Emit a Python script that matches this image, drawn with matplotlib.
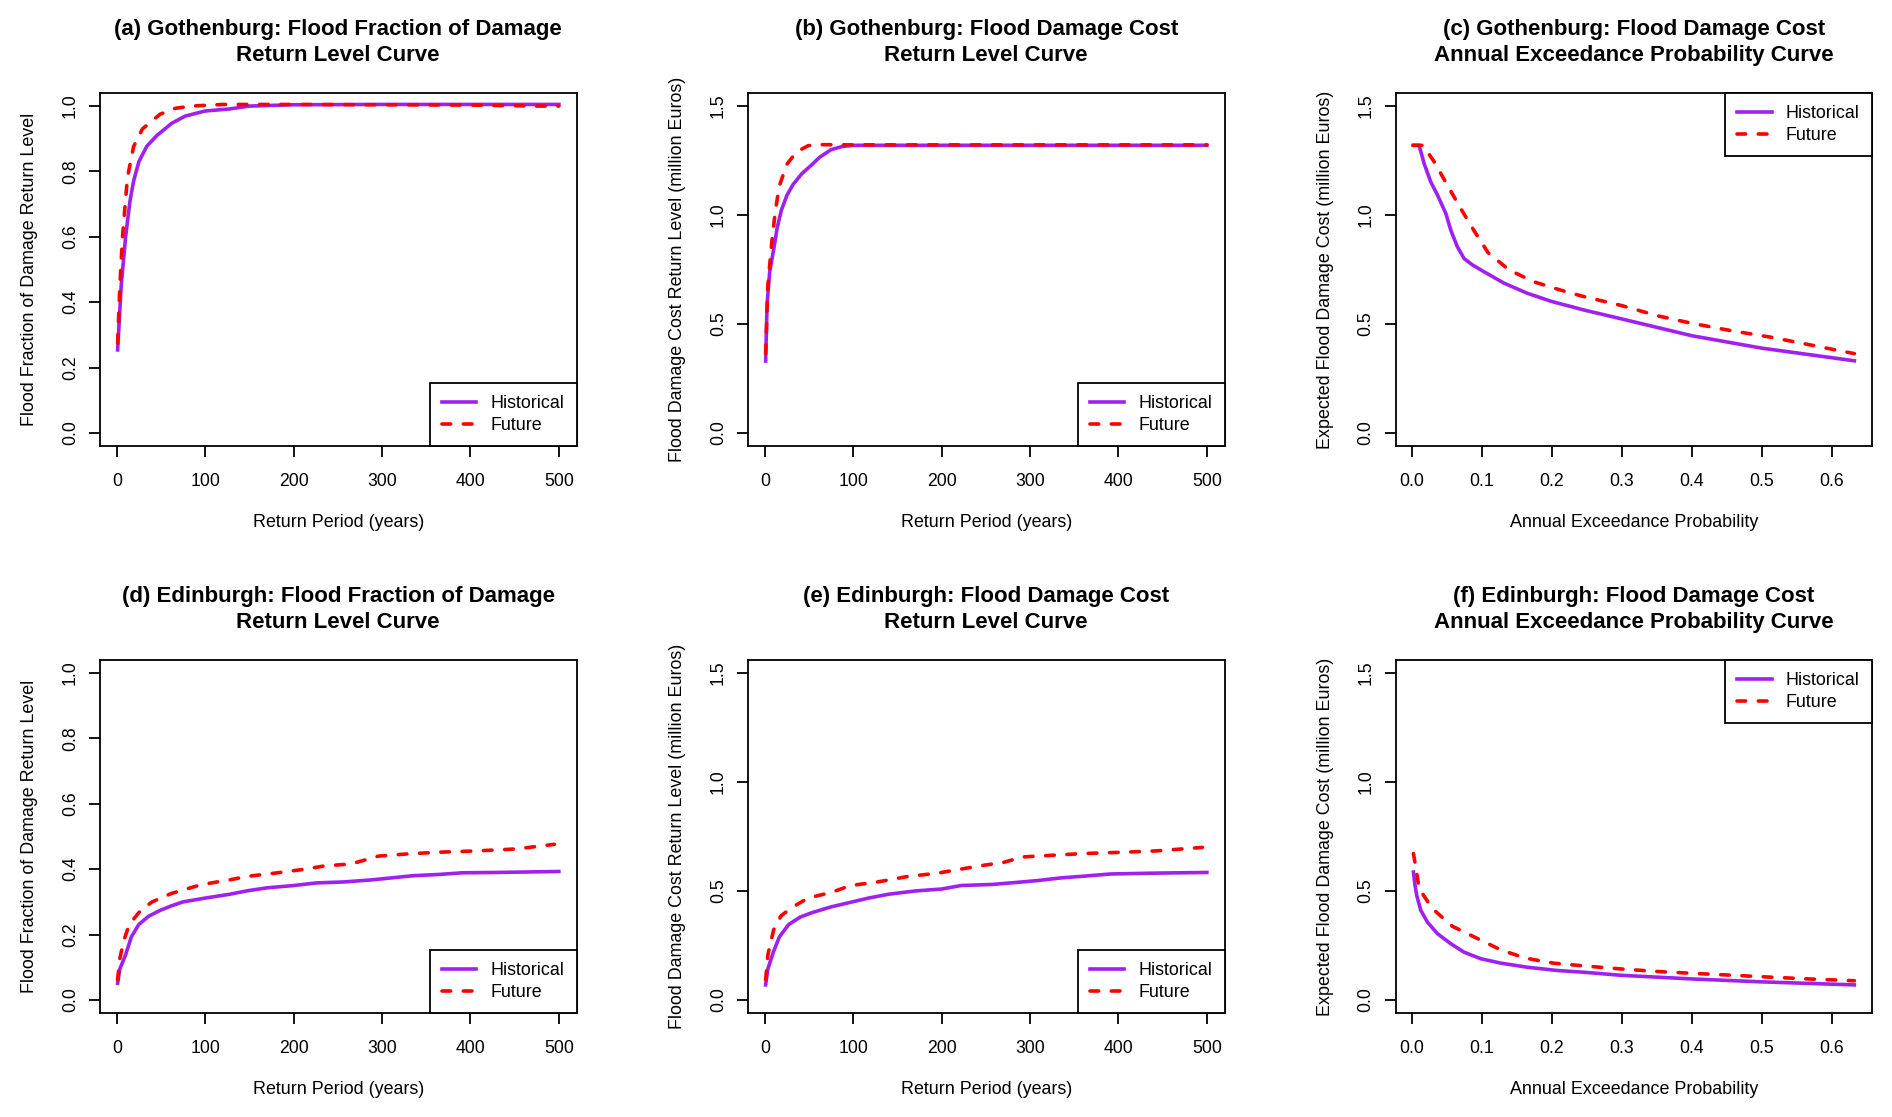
import matplotlib
matplotlib.use('Agg')
import matplotlib.pyplot as plt

plt.rcParams['font.family'] = ['Liberation Sans', 'DejaVu Sans']

# ---- data ----
# (a) Gothenburg flood fraction of damage vs return period
rp_a_hist = [1, 5, 10, 15, 19, 25, 34, 45, 62, 77, 100, 127, 150, 200, 300, 400, 500]
frac_a_hist = [0.254, 0.45, 0.60, 0.71, 0.77, 0.83, 0.877, 0.909, 0.947, 0.969, 0.985, 0.991,
               1.0, 1.004, 1.005, 1.005, 1.005]
rp_a_fut = [1, 3.5, 6.5, 12, 19, 29, 49, 66, 84, 120, 200, 300, 400, 480, 500]
frac_a_fut = [0.275, 0.45, 0.60, 0.78, 0.876, 0.93, 0.975, 0.993, 1.0, 1.005, 1.005, 1.004,
              1.003, 1.0, 1.0]

# (b) Gothenburg damage cost vs return period
rp_b_hist = [1, 2.6, 5.6, 10, 14, 18.6, 25, 32, 42, 53, 62, 75, 88, 100, 200, 300, 400, 500]
cost_b_hist = [0.33, 0.59, 0.74, 0.84, 0.94, 1.02, 1.09, 1.14, 1.19, 1.23, 1.265, 1.30, 1.315,
               1.32, 1.32, 1.32, 1.32, 1.32]
rp_b_fut = [1, 3.5, 7.8, 12, 16.5, 25, 36, 49, 58, 100, 200, 300, 400, 500]
cost_b_fut = [0.364, 0.675, 0.87, 1.02, 1.134, 1.233, 1.29, 1.318, 1.323, 1.322, 1.322, 1.322,
              1.322, 1.322]

# (c) Gothenburg damage cost vs annual exceedance probability
aep_c_hist = [0.002, 0.0105, 0.0176, 0.027, 0.0367, 0.0486, 0.0557, 0.065, 0.0748, 0.0867,
              0.103, 0.132, 0.165, 0.199, 0.246, 0.3, 0.4, 0.5, 0.632]
cost_c_hist = [1.32, 1.32, 1.237, 1.153, 1.092, 1.008, 0.931, 0.855, 0.80, 0.771, 0.74, 0.687,
               0.641, 0.604, 0.564, 0.523, 0.446, 0.389, 0.331]
aep_c_fut = [0.002, 0.016, 0.0319, 0.05, 0.069, 0.089, 0.109, 0.139, 0.174, 0.212, 0.243, 0.299,
             0.353, 0.40, 0.455, 0.515, 0.58, 0.632]
cost_c_fut = [1.32, 1.32, 1.245, 1.142, 1.035, 0.928, 0.827, 0.748, 0.694, 0.656, 0.628, 0.585,
              0.536, 0.503, 0.47, 0.438, 0.397, 0.364]

# (d) Edinburgh flood fraction of damage vs return period
rp_d_hist = [1, 3.5, 10, 16.5, 25, 36, 49, 62, 75, 101, 127, 148, 170, 200, 226, 257, 287, 313,
             335, 365, 391, 430, 500]
frac_d_hist = [0.051, 0.095, 0.138, 0.193, 0.231, 0.256, 0.274, 0.288, 0.30, 0.312, 0.323,
               0.334, 0.343, 0.35, 0.358, 0.361, 0.367, 0.374, 0.38, 0.384, 0.389, 0.39, 0.393]
rp_d_fut = [1, 3.5, 7.8, 14, 27, 40, 62, 96, 127, 148, 179, 213, 235, 265, 296, 330, 365, 408,
            452, 495]
frac_d_fut = [0.062, 0.127, 0.18, 0.23, 0.274, 0.30, 0.326, 0.353, 0.367, 0.378, 0.388, 0.40,
              0.41, 0.416, 0.44, 0.447, 0.452, 0.456, 0.462, 0.476]

# (e) Edinburgh damage cost vs return period
rp_e_hist = [1, 3.5, 10, 16.5, 27, 40, 53, 75, 97, 118, 140, 170, 200, 222, 257, 287, 309, 335,
             361, 391, 443, 500]
cost_e_hist = [0.069, 0.142, 0.223, 0.289, 0.346, 0.38, 0.40, 0.427, 0.448, 0.468, 0.485, 0.50,
               0.509, 0.525, 0.53, 0.54, 0.548, 0.56, 0.568, 0.578, 0.582, 0.585]
rp_e_fut = [1, 3.5, 10, 18.6, 32, 49, 75, 97, 127, 161, 196, 218, 248, 270, 291, 326, 361, 400,
            443, 495]
cost_e_fut = [0.093, 0.207, 0.321, 0.387, 0.427, 0.468, 0.493, 0.525, 0.541, 0.566, 0.582,
              0.598, 0.618, 0.631, 0.656, 0.664, 0.672, 0.677, 0.684, 0.70]

# (f) Edinburgh damage cost vs annual exceedance probability
aep_f_hist = [0.0024, 0.0043, 0.0071, 0.0129, 0.0224, 0.0367, 0.0557, 0.0748, 0.0986, 0.127,
              0.165, 0.208, 0.246, 0.299, 0.402, 0.499, 0.632]
cost_f_hist = [0.587, 0.534, 0.48, 0.411, 0.357, 0.304, 0.258, 0.219, 0.189, 0.169, 0.15, 0.135,
               0.127, 0.113, 0.096, 0.083, 0.069]
aep_f_fut = [0.0024, 0.0057, 0.0105, 0.0295, 0.058, 0.0924, 0.127, 0.162, 0.202, 0.239, 0.299,
             0.353, 0.402, 0.46, 0.515, 0.569, 0.632]
cost_f_fut = [0.672, 0.61, 0.511, 0.419, 0.338, 0.284, 0.23, 0.192, 0.169, 0.158, 0.142, 0.13,
              0.122, 0.113, 0.104, 0.096, 0.088]

rp_ticks = [0, 100, 200, 300, 400, 500]
aep_ticks = [0.0, 0.1, 0.2, 0.3, 0.4, 0.5, 0.6]
frac_ticks = [0.0, 0.2, 0.4, 0.6, 0.8, 1.0]
cost_ticks = [0.0, 0.5, 1.0, 1.5]

PURPLE = '#A020F0'
RED = '#FF0000'

W, H = 1892, 1117
fig = plt.figure(figsize=(W / 100, H / 100), dpi=100)

col_left = [100, 748, 1395.5]
row_top = [93, 660]
ax_w, ax_h = 476.5, 353


def panel(col, row, title, xh, yh, xf, yf, xlabel, ylabel, xlim, xticks, ylim, yticks, loc):
    ax = fig.add_axes([col_left[col] / W, 1 - (row_top[row] + ax_h) / H, ax_w / W, ax_h / H])
    ax.plot(xh, yh, color=PURPLE, lw=2.6, label='Historical')
    ax.plot(xf, yf, color=RED, lw=2.6, dashes=(2.4, 3.5), dash_capstyle='round', label='Future')
    ax.set_xlim(xlim)
    ax.set_ylim(ylim)
    ax.set_xticks(xticks)
    ax.set_yticks(yticks)
    if isinstance(xticks[-1], float):
        ax.set_xticklabels(['%.1f' % t for t in xticks])
    ax.set_yticklabels(['%.1f' % t for t in yticks])
    ax.tick_params(direction='out', length=8.2, width=1.3, labelsize=12.7, color='black')
    ax.tick_params(axis='x', pad=11.5)
    ax.tick_params(axis='y', pad=7, labelrotation=90)
    plt.setp(ax.get_yticklabels(), va='center')
    for s in ax.spines.values():
        s.set_linewidth(1.3)
    ax.set_title(title, fontsize=16, fontweight='bold', pad=23, linespacing=1.32)
    ax.set_xlabel(xlabel, fontsize=12.9)
    ax.set_ylabel(ylabel, fontsize=12.9)
    ax.xaxis.set_label_coords(0.5, -76.5 / ax_h)
    ax.xaxis.label.set_va('center')
    ax.yaxis.set_label_coords(-70.5 / ax_w, 0.5)
    ax.yaxis.label.set_va('center')
    leg = ax.legend(loc=loc, borderaxespad=0, fancybox=False, framealpha=1, edgecolor='black',
                    fontsize=12.9, handlelength=1.93, handletextpad=0.78, borderpad=0.68,
                    labelspacing=0.26)
    leg.get_frame().set_linewidth(1.3)
    return ax


rp_lim = (-18.96, 519.96)
aep_lim = (-0.0232, 0.6572)
frac_lim = (-0.04, 1.04)
cost_lim = (-0.06, 1.56)

rp_lab = 'Return Period (years)'
aep_lab = 'Annual Exceedance Probability'
frac_lab = 'Flood Fraction of Damage Return Level'
cost_lab = 'Flood Damage Cost Return Level (million Euros)'
exp_lab = 'Expected Flood Damage Cost (million Euros)'

panel(0, 0, '(a) Gothenburg: Flood Fraction of Damage\nReturn Level Curve',
      rp_a_hist, frac_a_hist, rp_a_fut, frac_a_fut, rp_lab, frac_lab,
      rp_lim, rp_ticks, frac_lim, frac_ticks, 'lower right')
panel(1, 0, '(b) Gothenburg: Flood Damage Cost\nReturn Level Curve',
      rp_b_hist, cost_b_hist, rp_b_fut, cost_b_fut, rp_lab, cost_lab,
      rp_lim, rp_ticks, cost_lim, cost_ticks, 'lower right')
panel(2, 0, '(c) Gothenburg: Flood Damage Cost\nAnnual Exceedance Probability Curve',
      aep_c_hist, cost_c_hist, aep_c_fut, cost_c_fut, aep_lab, exp_lab,
      aep_lim, aep_ticks, cost_lim, cost_ticks, 'upper right')
panel(0, 1, '(d) Edinburgh: Flood Fraction of Damage\nReturn Level Curve',
      rp_d_hist, frac_d_hist, rp_d_fut, frac_d_fut, rp_lab, frac_lab,
      rp_lim, rp_ticks, frac_lim, frac_ticks, 'lower right')
panel(1, 1, '(e) Edinburgh: Flood Damage Cost\nReturn Level Curve',
      rp_e_hist, cost_e_hist, rp_e_fut, cost_e_fut, rp_lab, cost_lab,
      rp_lim, rp_ticks, cost_lim, cost_ticks, 'lower right')
panel(2, 1, '(f) Edinburgh: Flood Damage Cost\nAnnual Exceedance Probability Curve',
      aep_f_hist, cost_f_hist, aep_f_fut, cost_f_fut, aep_lab, exp_lab,
      aep_lim, aep_ticks, cost_lim, cost_ticks, 'upper right')

fig.savefig('out.png', dpi=100)
